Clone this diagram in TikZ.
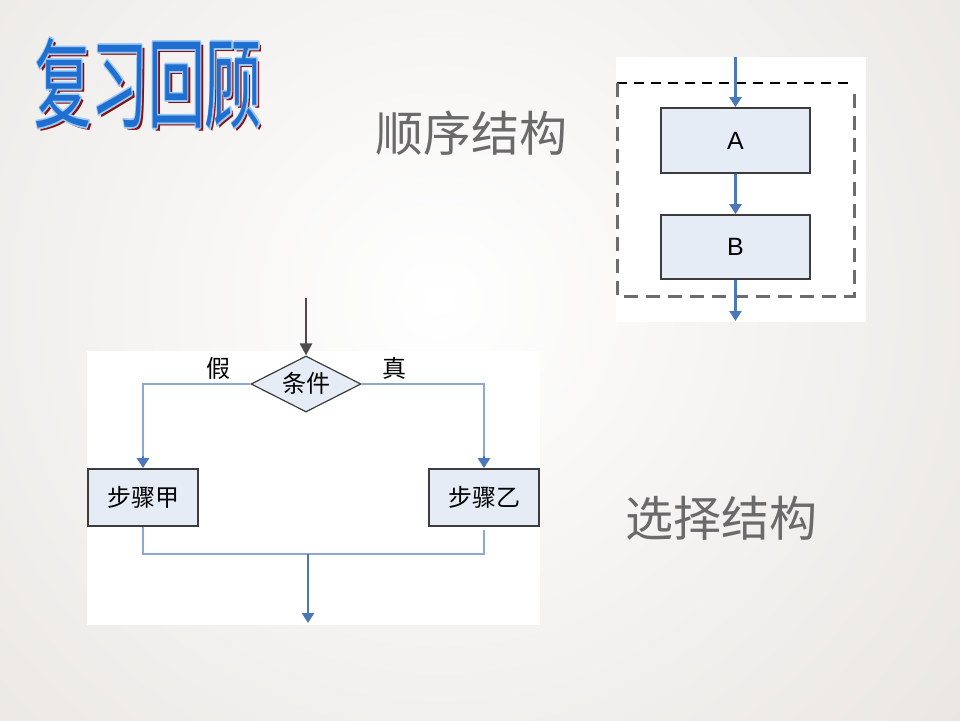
\documentclass[tikz,border=0pt]{standalone}
\usepackage{fontspec}
\setmainfont{Liberation Sans}
\newfontfamily\cjk{Noto Sans CJK SC}
\usetikzlibrary{shapes.geometric,arrows.meta}
\definecolor{bgc}{HTML}{E8E5E1}
\definecolor{boxfill}{HTML}{E6ECF6}
\definecolor{boxline}{HTML}{3C3C3C}
\definecolor{arrblue}{HTML}{4A78B8}
\definecolor{lineblue}{HTML}{8CA9D6}
\definecolor{titleblue}{HTML}{1E6FD0}
\definecolor{titleshadow}{HTML}{8A1010}
\definecolor{greytext}{HTML}{6A6A6A}
\newcommand{\outlinetext}[1]{\special{pdf:literal 1 Tr 0.62 0.79 0.96 RG 3.5 w 1 j}#1\special{pdf:literal 0 Tr}}
\tikzset{
  stepbox/.style={draw=boxline,line width=1.8pt,fill=boxfill,inner sep=0pt},
  flowarrow/.style={draw=arrblue,line width=2.4pt,-{Triangle[width=12pt,length=10pt]}},
  branchline/.style={draw=lineblue,line width=2.6pt},
  cjktext/.style={font=\cjk\fontsize{24}{28}\selectfont,text=black},
  bigtitle/.style={font=\cjk\fontsize{48}{56}\selectfont,text=greytext},
  titlefont/.style={font=\cjk\fontsize{98}{100}\selectfont,xscale=0.58,inner sep=0pt},
}
\begin{document}
\begin{tikzpicture}[x=1pt,y=-1pt]
\useasboundingbox (0,0) rectangle (960,720);
% background
\fill[bgc] (0,0) rectangle (960,720);
\begin{scope}
\clip (0,0) rectangle (960,720);
\shade[inner color=white, outer color=bgc] (440,300) circle (720);
\end{scope}

% title: shadow, light outline, blue core
\node (titleshadow) [titlefont,text=titleshadow] at (151,86) {复习回顾};
\node (titleoutline) [titlefont] at (148,83) {\outlinetext{复习回顾}};
\node (title) [titlefont,text=titleblue] at (148,83) {复习回顾};

% headings
\node (seqlabel) [bigtitle] at (471,133) {顺序结构};
\node (sellabel) [bigtitle] at (721,518) {选择结构};

% sequence panel
\fill[white] (616,57) rectangle (866,322);
\draw[black,line width=1.2pt,dash pattern=on 10pt off 7pt] (617,83) -- (854,83);
\draw[gray!85!black,line width=3pt,dash pattern=on 14pt off 8pt] (617,83) -- (617,296) -- (854,296) -- (854,93);
\node (A) [stepbox,minimum width=149pt,minimum height=65pt,font=\fontsize{25}{28}\selectfont] at (735.5,140.5) {A};
\node (B) [stepbox,minimum width=149pt,minimum height=64pt,font=\fontsize{25}{28}\selectfont] at (735.5,247) {B};
\coordinate (seqin) at (735.5,57);
\coordinate (seqout) at (735.5,321);
\draw[flowarrow] (seqin) -- (A.north);
\draw[flowarrow] (A.south) -- (B.north);
\draw[flowarrow] (B.south) -- (seqout);

% selection panel
\fill[white] (87,351) rectangle (540,625);
\node (cond) [diamond,draw=boxline,line width=1.2pt,fill=boxfill,minimum width=110pt,minimum height=56pt,inner sep=0pt,aspect=2] at (306,384) {};
\node (condtext) at (306,383) [cjktext] {条件};
\coordinate (selin) at (306,298);
\draw[draw=black!70,line width=2.6pt,-{Triangle[width=12pt,length=12pt]}] (selin) -- (cond.north);
\node (jia) [stepbox,minimum width=110pt,minimum height=57pt,cjktext] at (143,497.5) {步骤甲};
\node (yi) [stepbox,minimum width=110pt,minimum height=57pt,cjktext] at (484,497.5) {步骤乙};
\node (lfalse) [cjktext] at (218,368) {假};
\node (ltrue) [cjktext] at (394,368) {真};

\draw[branchline] (cond.west) -- (143,384) -- (143,458);
\draw[flowarrow] (143,456) -- (jia.north);
\draw[branchline] (cond.east) -- (484,384) -- (484,458);
\draw[flowarrow] (484,456) -- (yi.north);
\coordinate (join) at (308,554);
\draw[branchline] (jia.south) -- (143,554) -- (484,554) -- (484,530);
\coordinate (selout) at (308,623);
\draw[flowarrow] (join) -- (selout);
\end{tikzpicture}
\end{document}
